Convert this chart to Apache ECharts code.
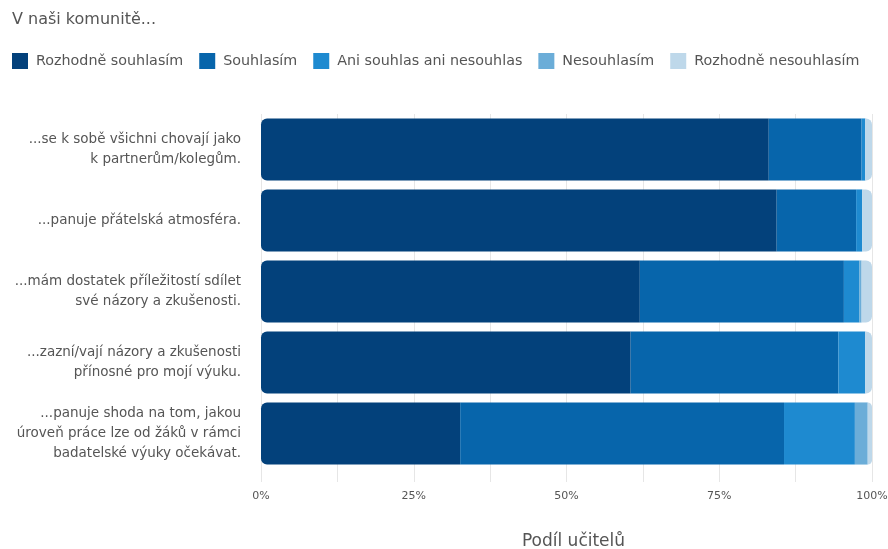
<!DOCTYPE html>
<html>
<head>
<meta charset="utf-8">
<script src="https://cdn.jsdelivr.net/npm/echarts@6/dist/echarts.min.js"></script>
<style>
html, body { margin: 0; padding: 0; background: #fff; }
#chart { width: 888px; height: 549px; }
</style>
</head>
<body>
<div id="chart"></div>
<script>
// otázky (shora dolů)
var categories = [
	'...se k sobě všichni chovají jako\nk partnerům/kolegům.',
	'...panuje přátelská atmosféra.',
	'...mám dostatek příležitostí sdílet\nsvé názory a zkušenosti.',
	'...zazní/vají názory a zkušenosti\npřínosné pro mojí výuku.',
	'...panuje shoda na tom, jakou\núroveň práce lze od žáků v rámci\nbadatelské výuky očekávat.'
];
var seriesNames = ['Rozhodně souhlasím', 'Souhlasím', 'Ani souhlas ani nesouhlas', 'Nesouhlasím', 'Rozhodně nesouhlasím'];
var rozhodneSouhlasim = [83.1, 84.4, 62.0, 60.5, 32.6];
var souhlasim = [15.2, 13.0, 33.4, 34.0, 53.0];
var aniAni = [0.6, 1.0, 2.5, 4.4, 11.6];
var nesouhlasim = [0, 0, 0.4, 0, 2.1];
var rozhodneNesouhlasim = [1.1, 1.6, 1.7, 1.1, 0.7];
var xTicks = [0, 25, 50, 75, 100];

var colors = ['#03417b', '#0765ab', '#1e8ad0', '#6badd8', '#bed8ea'];
var values = [rozhodneSouhlasim, souhlasim, aniAni, nesouhlasim, rozhodneNesouhlasim];
var font = 'DejaVu Sans';

var series = [];
for (var i = 0; i < seriesNames.length; i++) {
	var r = 0;
	if (i == 0) r = [6, 0, 0, 6];
	if (i == seriesNames.length - 1) r = [0, 6, 6, 0];
	series.push({
		name: seriesNames[i],
		type: 'bar',
		stack: 'total',
		barCategoryGap: '12.5%',
		itemStyle: { color: colors[i], borderRadius: r },
		data: values[i]
	});
}

var chart = echarts.init(document.getElementById('chart'));
chart.setOption({
	animation: false,
	textStyle: { fontFamily: font },
	title: {
		text: 'V naši komunitě...',
		left: 7,
		top: 7,
		textStyle: { fontSize: 16, fontWeight: 'normal', color: '#555', fontFamily: font }
	},
	legend: {
		left: 7,
		top: 48,
		icon: 'rect',
		itemWidth: 16,
		itemHeight: 16,
		itemGap: 16,
		itemStyle: { borderRadius: 0 },
		textStyle: { fontSize: 14.3, color: '#555', padding: [0, 0, 0, 3], fontFamily: font },
		data: seriesNames
	},
	grid: { left: 261, right: 16, top: 114, height: 355, outerBoundsMode: 'none', containLabel: false },
	xAxis: {
		type: 'value',
		min: 0,
		max: 100,
		interval: 12.5,
		name: 'Podíl učitelů',
		nameLocation: 'middle',
		nameGap: 64,
		nameTextStyle: { fontSize: 17, color: '#555', fontFamily: font, padding: [0, 0, 0, 14] },
		axisLine: { show: false },
		axisTick: { show: true, length: 13, lineStyle: { color: '#e6e6e6' } },
		splitLine: { show: true, lineStyle: { color: '#e6e6e6' } },
		axisLabel: {
			margin: 22,
			fontSize: 11,
			color: '#555',
			fontFamily: font,
			formatter: function(v) {
				return xTicks.indexOf(v) >= 0 ? v + '%' : '';
			}
		}
	},
	yAxis: {
		type: 'category',
		inverse: true,
		data: categories,
		axisLine: { show: false },
		axisTick: { show: false },
		axisLabel: { margin: 20, fontSize: 13.5, lineHeight: 20, color: '#555', align: 'right', fontFamily: font }
	},
	series: series
});
</script>
</body>
</html>
